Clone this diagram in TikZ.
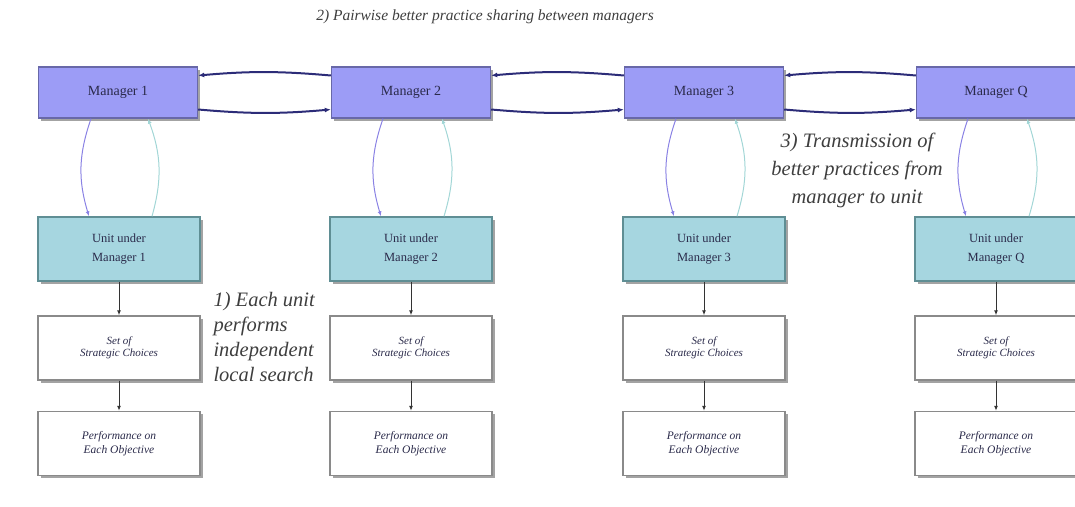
\documentclass[tikz,border=0pt]{standalone}
\usepackage{fontspec}
\setmainfont{Liberation Serif}
\definecolor{MgrBlue}{HTML}{9C9CF6}
\definecolor{MgrEdge}{HTML}{6868A8}
\definecolor{UnitCyan}{HTML}{A6D6E0}
\definecolor{UnitEdge}{HTML}{5F8E94}
\definecolor{BoxEdge}{HTML}{8A8A8A}
\definecolor{ShareNavy}{HTML}{2C2C78}
\definecolor{DownViolet}{HTML}{8A82E4}
\definecolor{UpTeal}{HTML}{A2D6D6}
\definecolor{NoteGray}{HTML}{3E3E3E}
\definecolor{BoxText}{HTML}{2A2A4A}
\usetikzlibrary{arrows.meta, positioning, shadows}
\tikzset{
  boxshadow/.style={drop shadow={shadow xshift=2.5pt, shadow yshift=-2.5pt, fill=gray!80, opacity=0.9}},
  mgrbox/.style={draw=MgrEdge, line width=1.4pt, fill=MgrBlue, boxshadow, minimum width=159pt, minimum height=51pt, text=BoxText, font=\fontsize{14}{17}\selectfont},
  unitbox/.style={draw=UnitEdge, line width=1.4pt, fill=UnitCyan, boxshadow, align=center, minimum width=162pt, minimum height=64pt, text=BoxText, font=\fontsize{12.5}{19}\selectfont},
  choicebox/.style={draw=BoxEdge, line width=1.4pt, fill=white, boxshadow, align=center, minimum width=162pt, minimum height=64pt, text=BoxText, font=\fontsize{11}{12.5}\selectfont\itshape},
  perfbox/.style={choicebox, font=\fontsize{11.5}{14}\selectfont\itshape},
  note/.style={text=NoteGray, font=\fontsize{20.5}{25}\selectfont\itshape},
  sharearrow/.style={-{Latex[length=6pt, width=5pt]}, line width=2pt, draw=ShareNavy, bend right=5},
  downarrow/.style={-{Latex[length=5pt, width=4pt]}, line width=1pt, draw=DownViolet, bend right=18},
  uparrow/.style={-{Latex[length=5pt, width=4pt]}, line width=1pt, draw=UpTeal, bend right=18},
  steparrow/.style={-{Latex[length=5pt, width=4pt]}, line width=1pt, draw=black!80}
}
\begin{document}
\begin{tikzpicture}[x=1pt, y=-1pt]
\useasboundingbox (0,0) rectangle (1075,506);

% managers
\node[mgrbox] (m1) at (118,92.5) {Manager 1};
\node[mgrbox] (m2) at (411,92.5) {Manager 2};
\node[mgrbox] (m3) at (704,92.5) {Manager 3};
\node[mgrbox] (mq) at (996,92.5) {Manager Q};

% units
\node[unitbox] (u1) at (119,249) {Unit under\\Manager 1};
\node[unitbox] (u2) at (411,249) {Unit under\\Manager 2};
\node[unitbox] (u3) at (704,249) {Unit under\\Manager 3};
\node[unitbox] (uq) at (996,249) {Unit under\\Manager Q};

% strategic choices
\node[choicebox] (c1) at (119,348) {Set of\\Strategic Choices};
\node[choicebox] (c2) at (411,348) {Set of\\Strategic Choices};
\node[choicebox] (c3) at (704,348) {Set of\\Strategic Choices};
\node[choicebox] (cq) at (996,348) {Set of\\Strategic Choices};

% performance
\node[perfbox] (p1) at (119,443.5) {Performance on\\Each Objective};
\node[perfbox] (p2) at (411,443.5) {Performance on\\Each Objective};
\node[perfbox] (p3) at (704,443.5) {Performance on\\Each Objective};
\node[perfbox] (pq) at (996,443.5) {Performance on\\Each Objective};

% notes
\node[note, font=\fontsize{15.5}{18}\selectfont\itshape] (share) at (485,17) {2) Pairwise better practice sharing between managers};
\node[note, align=left, anchor=west] (search) at (210,337) {1) Each unit\\performs\\independent\\local search};
\node[note, align=center, font=\fontsize{20.5}{28}\selectfont\itshape] (transmit) at (857,170) {3) Transmission of\\better practices from\\manager to unit};

% sharing between managers
\draw[sharearrow] ([yshift=17pt]m2.west) to ([yshift=17pt]m1.east);
\draw[sharearrow] ([yshift=-17pt]m1.east) to ([yshift=-17pt]m2.west);
\draw[sharearrow] ([yshift=17pt]m3.west) to ([yshift=17pt]m2.east);
\draw[sharearrow] ([yshift=-17pt]m2.east) to ([yshift=-17pt]m3.west);
\draw[sharearrow] ([yshift=17pt]mq.west) to ([yshift=17pt]m3.east);
\draw[sharearrow] ([yshift=-17pt]m3.east) to ([yshift=-17pt]mq.west);

% manager <-> unit
\draw[downarrow] ([xshift=-27pt]m1.south) to ([xshift=-30pt]u1.north);
\draw[uparrow] ([xshift=33pt]u1.north) to ([xshift=30pt]m1.south);
\draw[downarrow] ([xshift=-28pt]m2.south) to ([xshift=-30pt]u2.north);
\draw[uparrow] ([xshift=33pt]u2.north) to ([xshift=31pt]m2.south);
\draw[downarrow] ([xshift=-28pt]m3.south) to ([xshift=-30pt]u3.north);
\draw[uparrow] ([xshift=33pt]u3.north) to ([xshift=31pt]m3.south);
\draw[downarrow] ([xshift=-28pt]mq.south) to ([xshift=-30pt]uq.north);
\draw[uparrow] ([xshift=33pt]uq.north) to ([xshift=31pt]mq.south);

% local search
\draw[steparrow] (u1) -- (c1);
\draw[steparrow] (c1) -- (p1);
\draw[steparrow] (u2) -- (c2);
\draw[steparrow] (c2) -- (p2);
\draw[steparrow] (u3) -- (c3);
\draw[steparrow] (c3) -- (p3);
\draw[steparrow] (uq) -- (cq);
\draw[steparrow] (cq) -- (pq);
\end{tikzpicture}
\end{document}
